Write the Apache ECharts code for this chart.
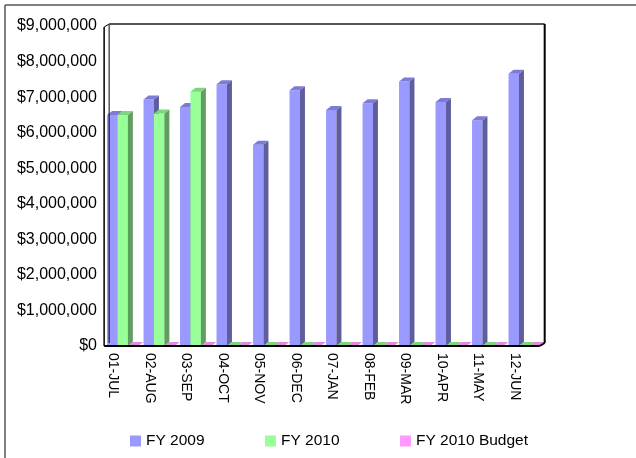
<!DOCTYPE html>
<html>
<head>
<meta charset="utf-8">
<script src="https://cdn.jsdelivr.net/npm/echarts@6/dist/echarts.min.js"></script>
<style>html,body{margin:0;padding:0;background:#fff;}#c{width:636px;height:458px;}</style>
</head>
<body>
<div id="c"></div>
<script>
var categories = ['01-JUL','02-AUG','03-SEP','04-OCT','05-NOV','06-DEC','07-JAN','08-FEB','09-MAR','10-APR','11-MAY','12-JUN'];
var fy2009 = [6500000, 6930000, 6720000, 7360000, 5660000, 7190000, 6640000, 6830000, 7440000, 6860000, 6350000, 7660000];
var fy2010 = [6500000, 6540000, 7150000, 0, 0, 0, 0, 0, 0, 0, 0, 0];
var fy2010Budget = [0, 0, 0, 0, 0, 0, 0, 0, 0, 0, 0, 0];
var seriesNames = ['FY 2009', 'FY 2010', 'FY 2010 Budget'];
var yTicks = [0, 1000000, 2000000, 3000000, 4000000, 5000000, 6000000, 7000000, 8000000, 9000000];

var FONT = "'Liberation Sans', Arial, sans-serif";
var palette = [
  {front:'#9999FF', side:'#5E5E9E', top:'#7C7CD6'},
  {front:'#99FF99', side:'#5E9E5E', top:'#7CD67C'},
  {front:'#FF99FF', side:'#9E5E9E', top:'#E08AE0'}
];

function makeRender(k) {
  var c = palette[k];
  return function (params, api) {
    var idx = api.value(0), val = api.value(1);
    var base = api.coord([idx, 0]);
    var topP = api.coord([idx, val]);
    var band = api.size([1, 0])[0];
    var bw = band * 0.285;
    var x0 = base[0] - band * 0.17 + k * bw;
    var x1 = x0 + bw;
    var y0 = base[1], y1 = topP[1];
    var dx = 5, dy = -4;
    return {
      type: 'group',
      children: [
        {type: 'rect', shape: {x: x0, y: y1, width: bw, height: y0 - y1}, style: {fill: c.front}},
        {type: 'polygon', shape: {points: [[x1, y1], [x1 + dx, y1 + dy], [x1 + dx, y0 + dy], [x1, y0]]}, style: {fill: c.side}},
        {type: 'polygon', shape: {points: [[x0, y1], [x1, y1], [x1 + dx, y1 + dy], [x0 + dx, y1 + dy]]}, style: {fill: c.top}}
      ]
    };
  };
}

function toData(arr) { return arr.map(function (v, i) { return [i, v]; }); }
var allSeries = [fy2009, fy2010, fy2010Budget];

var chart = echarts.init(document.getElementById('c'), null, {renderer: 'canvas'});
var legendLefts = [125, 260, 395];
var option = {
  animation: false,
  backgroundColor: '#fff',
  grid: {left: 95, right: 103, top: 26, bottom: 112, containLabel: false},
  xAxis: {
    type: 'category',
    data: categories,
    axisLine: {show: false},
    axisTick: {show: false},
    axisLabel: {rotate: -90, margin: 7, fontSize: 14, color: '#000', fontFamily: FONT, interval: 0}
  },
  yAxis: {
    type: 'value',
    min: 0, max: 9000000, interval: 1000000,
    offset: -10,
    splitLine: {show: false},
    axisLine: {show: false},
    axisTick: {show: false},
    axisLabel: {
      margin: 8, fontSize: 16, color: '#000', fontFamily: FONT,
      formatter: function (v) { return '$' + v.toString().replace(/\B(?=(\d{3})+(?!\d))/g, ','); }
    }
  },
  legend: seriesNames.map(function (n, i) {
    return {
      data: [n], left: legendLefts[i], top: 428,
      itemWidth: 11, itemHeight: 11, itemGap: 5,
      icon: 'rect',
      textStyle: {fontSize: 15.5, color: '#000', fontFamily: FONT}
    };
  }),
  series: allSeries.map(function (arr, k) {
    return {
      type: 'custom',
      name: seriesNames[k],
      renderItem: makeRender(k),
      encode: {x: 0, y: 1},
      itemStyle: {color: palette[k].front},
      data: toData(arr),
      z: 2 + k
    };
  })
};
chart.setOption(option);

// wall / floor frame derived from the axes
var yZero = chart.convertToPixel({yAxisIndex: 0}, 0);
var yMax = chart.convertToPixel({yAxisIndex: 0}, 9000000);
var xFirst = chart.convertToPixel({xAxisIndex: 0}, 0);
var xLast = chart.convertToPixel({xAxisIndex: 0}, categories.length - 1);
var band = (xLast - xFirst) / (categories.length - 1);
var wl = xFirst - band * 0.25;
var wr = xLast + band * 0.82;
var d = 5, dh = 3;
function line(x1, y1, x2, y2, col, w) {
  return {type: 'line', shape: {x1: x1, y1: y1, x2: x2, y2: y2}, style: {stroke: col, lineWidth: w}, z: 10};
}
chart.setOption({
  graphic: [
    line(5, 5, 636, 5, '#555', 1.5),
    line(5, 5, 5, 458, '#555', 1.5),
    line(wl, yMax + 1, wl, yZero, '#000', 1.5),
    line(wl + d, yMax - 2, wl + d, yZero - dh, '#000', 1),
    line(wl, yMax + 1, wl + d, yMax - 2, '#000', 1),
    line(wl + d, yMax - 2, wr, yMax - 2, '#555', 2),
    line(wr, yMax - 2, wr, yZero - dh, '#000', 2),
    line(wl, yZero, wr - d, yZero, '#000', 2),
    line(wr - d, yZero, wr, yZero - dh, '#000', 2)
  ]
});
</script>
</body>
</html>
